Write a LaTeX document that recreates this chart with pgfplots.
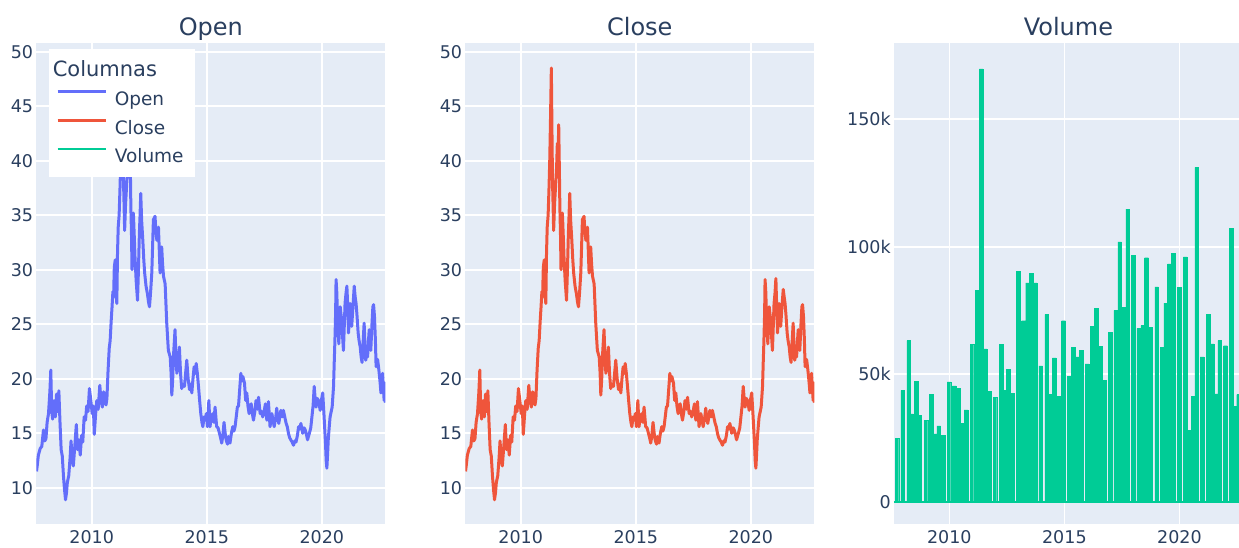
\documentclass[border=0pt]{standalone}
\usepackage{pgfplots}
\usepackage{pgfplotstable}
\usepackage{fontspec}
\setmainfont{DejaVu Sans}
\pgfplotsset{compat=1.18}
\definecolor{bg}{HTML}{E5ECF6}
\definecolor{txt}{HTML}{2A3F5F}
\definecolor{copen}{HTML}{636EFA}
\definecolor{cclose}{HTML}{EF553B}
\definecolor{cvol}{HTML}{00CC96}

\pgfplotstableread{
t open close
2007.60 11.5 11.5
2007.64 12.2 12.2
2007.68 13.0 13.0
2007.76 13.6 13.6
2007.83 13.8 13.8
2007.90 15.3 15.3
2007.96 14.3 14.3
2008.01 14.5 14.5
2008.06 16.0 16.0
2008.12 16.8 16.8
2008.18 18.8 18.8
2008.22 20.8 20.8
2008.26 17.0 17.0
2008.30 16.3 16.3
2008.36 18.0 18.0
2008.42 16.5 16.5
2008.47 18.6 18.6
2008.52 17.0 17.0
2008.57 18.9 18.9
2008.62 16.0 16.0
2008.67 13.5 13.5
2008.72 12.9 12.9
2008.77 11.1 11.1
2008.81 10.0 10.0
2008.86 8.9 8.9
2008.90 9.5 9.5
2008.94 10.5 10.5
2009.00 11.1 11.1
2009.06 12.8 12.8
2009.10 14.3 14.3
2009.15 12.6 12.6
2009.20 12.0 12.0
2009.27 14.0 14.0
2009.33 15.8 15.8
2009.38 13.5 13.5
2009.44 14.4 14.4
2009.50 13.0 13.0
2009.56 14.8 14.8
2009.61 14.2 14.2
2009.67 16.5 16.5
2009.73 16.2 16.2
2009.78 17.5 17.5
2009.84 17.0 17.0
2009.90 19.1 19.1
2009.96 18.0 18.0
2010.02 16.8 16.8
2010.07 17.5 17.5
2010.11 14.9 14.9
2010.17 16.8 16.8
2010.22 18.0 18.0
2010.28 17.2 17.2
2010.35 19.4 19.4
2010.40 18.1 18.1
2010.46 17.4 17.4
2010.52 18.8 18.8
2010.57 18.0 18.0
2010.62 17.6 17.6
2010.66 18.2 18.2
2010.71 20.8 20.8
2010.76 22.8 22.8
2010.80 23.5 23.5
2010.85 25.5 25.5
2010.88 26.5 26.5
2010.92 28.0 28.0
2010.95 27.5 27.5
2010.98 30.2 30.2
2011.02 30.9 30.9
2011.05 28.0 28.0
2011.09 26.9 26.9
2011.12 31.5 31.5
2011.15 33.9 33.9
2011.19 35.0 35.0
2011.23 37.6 37.6
2011.26 40.0 40.0
2011.29 43.4 43.4
2011.33 48.0 48.5
2011.36 42.0 42.0
2011.38 38.2 38.2
2011.41 35.5 35.5
2011.43 33.6 33.6
2011.47 36.0 36.0
2011.52 37.9 37.9
2011.56 39.5 39.5
2011.59 41.6 41.6
2011.62 40.0 40.0
2011.65 43.3 43.3
2011.68 39.0 39.0
2011.70 35.8 35.8
2011.73 33.0 33.0
2011.75 30.0 30.0
2011.78 33.0 33.0
2011.81 35.2 35.2
2011.85 33.0 33.0
2011.88 31.2 31.2
2011.93 29.0 29.0
2011.99 27.2 27.2
2012.03 30.0 30.0
2012.07 33.3 33.3
2012.10 35.0 35.0
2012.13 37.0 37.0
2012.17 34.5 34.5
2012.22 32.7 32.7
2012.26 31.0 31.0
2012.30 29.7 29.7
2012.36 28.5 28.5
2012.42 27.8 27.8
2012.47 27.0 27.0
2012.51 26.6 26.6
2012.56 28.0 28.0
2012.61 29.7 29.7
2012.68 34.6 34.6
2012.75 34.9 34.9
2012.79 33.5 33.5
2012.83 32.7 32.7
2012.90 33.9 33.9
2012.94 31.5 31.5
2012.97 29.7 29.7
2013.04 32.1 32.1
2013.08 30.5 30.5
2013.12 29.4 29.4
2013.19 28.7 28.7
2013.26 25.1 25.1
2013.33 22.6 22.6
2013.41 22.0 22.0
2013.45 20.5 20.5
2013.48 18.5 18.5
2013.52 20.0 20.0
2013.55 22.0 22.0
2013.62 24.5 24.5
2013.66 22.0 22.0
2013.70 20.5 20.5
2013.76 21.5 21.5
2013.81 22.9 22.9
2013.86 20.5 20.5
2013.91 19.1 19.1
2013.97 19.5 19.5
2014.03 19.3 19.3
2014.08 20.5 20.5
2014.13 21.7 21.7
2014.19 20.0 20.0
2014.25 19.0 19.0
2014.30 19.5 19.5
2014.35 18.7 18.7
2014.40 20.0 20.0
2014.45 21.1 21.1
2014.50 20.5 20.5
2014.54 21.4 21.4
2014.59 20.5 20.5
2014.64 19.3 19.3
2014.69 18.0 18.0
2014.74 16.8 16.8
2014.79 16.0 16.0
2014.83 15.6 15.6
2014.88 16.5 16.5
2014.93 16.2 16.2
2014.98 16.8 16.8
2015.03 15.6 15.6
2015.09 18.0 18.0
2015.14 15.6 15.6
2015.20 16.5 16.5
2015.26 16.8 16.8
2015.31 16.0 16.0
2015.36 17.4 17.4
2015.43 15.6 15.6
2015.49 15.5 15.5
2015.55 15.0 15.0
2015.60 14.6 14.6
2015.65 14.1 14.1
2015.70 14.8 14.8
2015.75 16.0 16.0
2015.80 15.0 15.0
2015.84 14.4 14.4
2015.90 14.0 14.0
2015.94 14.7 14.7
2016.01 14.1 14.1
2016.07 15.0 15.0
2016.13 15.6 15.6
2016.18 15.2 15.2
2016.23 15.6 15.6
2016.28 16.5 16.5
2016.33 17.4 17.4
2016.38 17.5 17.5
2016.42 18.7 18.7
2016.48 20.5 20.5
2016.53 19.8 19.8
2016.57 20.2 20.2
2016.64 19.6 19.6
2016.69 18.0 18.0
2016.74 18.7 18.7
2016.79 17.5 17.5
2016.84 16.8 16.8
2016.88 17.5 17.5
2016.93 17.7 17.7
2016.98 16.8 16.8
2017.03 16.2 16.2
2017.09 17.0 17.0
2017.14 18.0 18.0
2017.20 17.2 17.2
2017.25 18.3 18.3
2017.32 16.8 16.8
2017.38 17.0 17.0
2017.43 16.5 16.5
2017.49 17.0 17.0
2017.55 17.7 17.7
2017.61 16.2 16.2
2017.68 17.9 17.9
2017.75 15.6 15.6
2017.83 16.8 16.8
2017.88 16.2 16.2
2017.93 15.6 15.6
2018.00 16.5 16.5
2018.04 17.3 17.3
2018.09 16.4 16.4
2018.13 15.9 15.9
2018.22 17.1 17.1
2018.28 16.5 16.5
2018.33 17.1 17.1
2018.39 16.5 16.5
2018.45 15.9 15.9
2018.50 15.6 15.6
2018.55 15.0 15.0
2018.60 14.6 14.6
2018.65 14.4 14.4
2018.71 14.2 14.2
2018.77 13.9 13.9
2018.83 14.3 14.3
2018.88 14.2 14.2
2018.94 14.8 14.8
2018.99 15.6 15.6
2019.04 15.4 15.4
2019.09 15.9 15.9
2019.17 15.0 15.0
2019.23 15.5 15.5
2019.28 15.3 15.3
2019.33 14.9 14.9
2019.38 14.4 14.4
2019.46 15.0 15.0
2019.52 15.5 15.5
2019.57 16.5 16.5
2019.62 17.5 17.5
2019.67 19.3 19.3
2019.71 18.2 18.2
2019.75 17.4 17.4
2019.80 18.2 18.2
2019.86 18.0 18.0
2019.93 17.1 17.1
2019.98 18.0 18.0
2020.04 18.7 18.7
2020.10 16.5 16.5
2020.16 14.1 14.1
2020.19 12.5 12.5
2020.22 11.8 11.8
2020.25 13.0 13.0
2020.28 14.4 14.4
2020.32 15.5 15.5
2020.36 16.5 16.5
2020.45 17.4 17.4
2020.51 19.3 19.3
2020.54 21.5 21.5
2020.57 23.5 23.5
2020.60 26.0 26.0
2020.62 29.1 29.1
2020.65 28.0 28.0
2020.68 26.0 26.0
2020.71 24.5 24.5
2020.74 23.2 23.2
2020.77 25.0 25.0
2020.80 26.6 26.6
2020.84 25.8 25.8
2020.87 25.4 25.4
2020.90 24.0 24.0
2020.94 22.6 22.6
2020.98 25.0 25.0
2021.01 26.9 26.9
2021.05 27.8 27.8
2021.09 28.5 29.2
2021.12 27.0 27.0
2021.16 24.2 24.2
2021.20 25.5 25.5
2021.23 26.9 26.9
2021.27 26.0 26.0
2021.30 24.8 24.8
2021.35 26.5 26.5
2021.41 28.5 28.2
2021.45 27.5 27.5
2021.49 26.9 26.9
2021.53 25.8 25.8
2021.58 24.2 24.2
2021.62 23.5 23.5
2021.67 22.9 22.9
2021.71 22.0 22.0
2021.75 21.5 21.5
2021.80 23.5 23.5
2021.84 25.1 25.1
2021.88 23.0 23.0
2021.91 21.7 21.7
2021.95 22.5 22.5
2021.99 22.0 22.0
2022.03 23.5 23.5
2022.06 24.5 24.5
2022.10 23.5 23.5
2022.13 22.6 22.6
2022.18 25.0 25.0
2022.22 26.6 26.6
2022.25 26.8 26.8
2022.29 25.7 25.7
2022.33 23.5 23.5
2022.36 21.1 21.1
2022.40 21.8 21.8
2022.43 21.7 21.7
2022.47 21.0 21.0
2022.51 20.2 20.2
2022.54 19.5 19.5
2022.57 18.7 18.7
2022.61 19.8 19.8
2022.64 20.5 20.5
2022.68 19.0 19.0
2022.71 18.0 18.0
2022.74 19.6 19.6
2022.76 17.8 17.8
}\prices

\pgfplotstableread{
t vol
2007.64 25000
2007.89 43700
2008.15 63200
2008.28 34500
2008.47 47300
2008.62 33900
2008.90 32000
2009.14 42000
2009.30 26600
2009.46 29800
2009.64 26000
2009.90 47000
2010.13 45500
2010.32 44500
2010.48 30700
2010.64 36000
2010.90 61700
2011.14 83000
2011.30 169800
2011.47 60000
2011.65 43200
2011.90 41000
2012.17 61700
2012.30 43700
2012.48 51900
2012.64 42500
2012.90 90400
2013.14 71000
2013.32 85800
2013.47 89500
2013.64 85800
2013.89 53300
2014.15 73500
2014.28 42000
2014.48 56400
2014.65 41400
2014.88 71000
2015.14 49200
2015.31 60500
2015.48 56800
2015.65 59500
2015.90 54100
2016.14 68700
2016.31 75800
2016.48 60900
2016.67 47500
2016.92 66400
2017.15 75100
2017.32 101900
2017.50 76200
2017.67 114800
2017.92 96700
2018.15 68000
2018.33 69100
2018.49 95700
2018.66 68500
2018.93 84300
2019.16 60500
2019.32 77900
2019.49 93300
2019.65 97400
2019.91 84000
2020.17 96000
2020.34 28100
2020.51 41400
2020.67 131100
2020.90 56800
2021.17 73500
2021.34 61900
2021.50 42300
2021.67 63200
2021.92 61200
2022.17 107200
2022.33 37300
2022.49 42000
2022.62 33900
}\volume

\pgfplotsset{
  panel/.style={
    scale only axis, width=349pt, height=481.5pt,
    axis background/.style={fill=bg},
    axis line style={draw=none},
    major tick length=0pt,
    grid=major, grid style={white, line width=1.6pt},
    tick label style={font=\fontsize{17.5}{20}\selectfont, text=txt},
    title style={font=\fontsize{24}{28}\selectfont, text=txt, at={(0.5,1)}, anchor=base, yshift=1pt},
    xmin=2007.59, xmax=2022.76,
    xtick={2010,2015,2020}, xticklabels={2010,2015,2020},
    xticklabel style={anchor=north, inner sep=0pt, yshift=-6pt},
    yticklabel style={anchor=east, inner sep=0pt, xshift=-3pt},
  },
  price/.style={
    ymin=6.63, ymax=50.8,
    ytick={10,15,20,25,30,35,40,45,50},
    yticklabels={10,15,20,25,30,35,40,45,50},
  },
}

\begin{document}
\begin{tikzpicture}
\useasboundingbox (0,0) rectangle (1239pt,548pt);
\fill[white] (0,0) rectangle (1239pt,548pt);

% Open
\begin{axis}[panel, price, at={(36.3pt,23.5pt)}, anchor=south west, title={Open},
  legend style={draw=none, fill=white, at={(0.0364,0.988)}, anchor=north west,
    inner xsep=7pt, inner ysep=6.55pt, row sep=0pt,
    nodes={inner sep=0pt, text height=21.35pt, text depth=7.35pt, text=txt,
      font=\fontsize{18.5}{22}\selectfont},
    /tikz/every odd column/.append style={column sep=7.7pt}},
  legend cell align=left,
  legend image code/.code={\draw[line width=2.6pt] (0pt,7pt) -- (48.3pt,7pt);},
]
\addlegendimage{empty legend}
\addlegendentry{\hspace*{-62pt}\fontsize{21}{24}\selectfont Columnas}
\addplot[copen, line width=3pt, line join=round] table[x=t, y=open] {\prices};
\addlegendentry{Open}
\addlegendimage{cclose}
\addlegendentry{Close}
\addlegendimage{cvol}
\addlegendentry{Volume\hspace*{4pt}}
\end{axis}

% Close
\begin{axis}[panel, price, at={(465.3pt,23.5pt)}, anchor=south west, title={Close}]
\addplot[cclose, line width=3pt, line join=round] table[x=t, y=close] {\prices};
\end{axis}

% Volume
\begin{axis}[panel, at={(893.9pt,23.5pt)}, anchor=south west, title={Volume},
  ymin=-8900, ymax=179900, scaled y ticks=false,
  ytick={0,50000,100000,150000}, yticklabels={0,50k,100k,150k}]
\addplot[ybar, bar width=0.16, bar shift=0.08, fill=cvol, draw=cvol, line width=0.4pt] table[x=t, y=vol] {\volume};
\addplot[cvol, line width=2pt] coordinates {(2007.59,0) (2022.76,0)};
\end{axis}
\end{tikzpicture}
\end{document}
